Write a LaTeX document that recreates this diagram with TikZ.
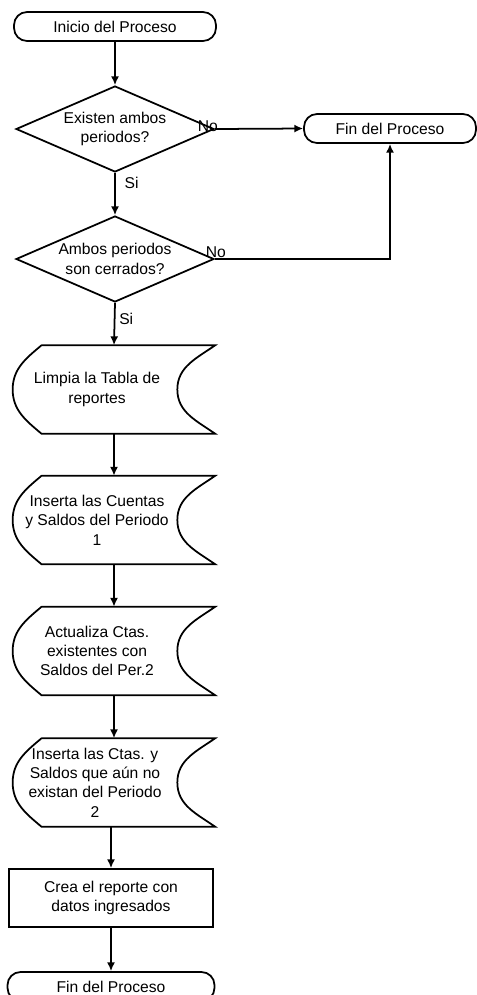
\documentclass[tikz,border=0pt]{standalone}
\usepackage{fontspec}
\setmainfont{Liberation Sans}
\usetikzlibrary{shapes.geometric}
\usetikzlibrary{arrows.meta}
\tikzset{
  Linie/.style={line width=1pt}, % alle Linien
  Ende/.style={Linie,draw,rectangle,rounded corners=0.26cm,minimum height=0.58cm,inner sep=0pt},% Anfang/Ende
  Raute/.style={Linie,draw,diamond,aspect=2.3,inner sep=0pt,minimum width=3.96cm,minimum height=1.72cm,align=center},
  Speicher/.style={minimum width=4.04cm,minimum height=1.76cm,inner sep=0pt},% Text per label
  Kasten/.style={Linie,draw,rectangle,minimum width=4.08cm,minimum height=1.16cm,align=center},
  Pfeil/.style={Linie,->},
  Marke/.style={inner sep=1pt} % No / Si
}
% Umriss fuer gespeicherte Daten
\newcommand{\Speicherrand}[1]{%
\draw[Linie] ([xshift=0.58cm]#1.north west) -- (#1.north east)
  to[out=215,in=90] ([xshift=-0.76cm]#1.east)
  to[out=-90,in=145] (#1.south east)
  -- ([xshift=0.58cm]#1.south west)
  to[out=140,in=-90] (#1.west)
  to[out=90,in=220] ([xshift=0.58cm]#1.north west);}

\begin{document}
\begin{tikzpicture}[x=0.02cm,y=0.02cm,
font=\fontsize{8.9}{11}\selectfont,
>={Latex[length=5pt,width=4.6pt]} % Pfeilspitzen
]
\useasboundingbox (0,0) rectangle (477,-995);

%Bloecke
\node[Ende,minimum width=4.04cm] (inicio) at (115,-26.5) {Inicio del Proceso};
\node[Raute] (existen) at (115,-129) {Existen ambos\\periodos?};
\node[Ende,minimum width=3.44cm] (fin) at (390,-128.5) {Fin del Proceso};
\node[Raute] (cerrados) at (115,-259) {Ambos periodos\\son cerrados?};

\node[Speicher,label={[align=center,xshift=-0.34cm]center:{Limpia la Tabla de\\reportes}}] (limpia) at (114,-389.5) {};
\node[Speicher,label={[align=center,xshift=-0.34cm]center:{Inserta las Cuentas\\y Saldos del Periodo\\1}}] (inserta) at (114,-520) {};
\node[Speicher,label={[align=center,xshift=-0.34cm]center:{Actualiza Ctas.\\existentes con\\Saldos del Per.2}}] (actualiza) at (114,-651) {};
\node[Speicher,label={[align=center,xshift=-0.38cm]center:{Inserta las Ctas. y\\Saldos que aún no\\existan del Periodo\\2}}] (insertados) at (114,-782.5) {};
\foreach \n in {limpia,inserta,actualiza,insertados} {\Speicherrand{\n}}

\node[Kasten] (crea) at (111,-898) {Crea el reporte con\\datos ingresados};
\node[Ende,minimum width=4.14cm] (ende) at (111,-986.5) {Fin del Proceso};

%Verbindungen
\draw[Pfeil] (inicio) -- (existen);
\draw[Pfeil] (existen.east) -- node[Marke,pos=0,anchor=south,xshift=-0.14cm,yshift=-0.11cm]{No} (fin.west);
\draw[Pfeil] (existen) -- node[Marke,right,pos=0.23,xshift=0.14cm]{Si} (cerrados);
\draw[Pfeil] (cerrados.east) -| node[Marke,pos=0,anchor=south,xshift=0.02cm,yshift=-0.03cm]{No} (fin.south);
\draw[Pfeil] (cerrados.south) -- node[Marke,right,pos=0.37,xshift=0.04cm]{Si} (limpia.north);

\draw[Pfeil] (limpia) -- (inserta);
\draw[Pfeil] (inserta) -- (actualiza);
\draw[Pfeil] (actualiza) -- (insertados);
\draw[Pfeil] (insertados.south -| crea.north) -- (crea.north);
\draw[Pfeil] (crea) -- (ende);

\end{tikzpicture}
\end{document}
